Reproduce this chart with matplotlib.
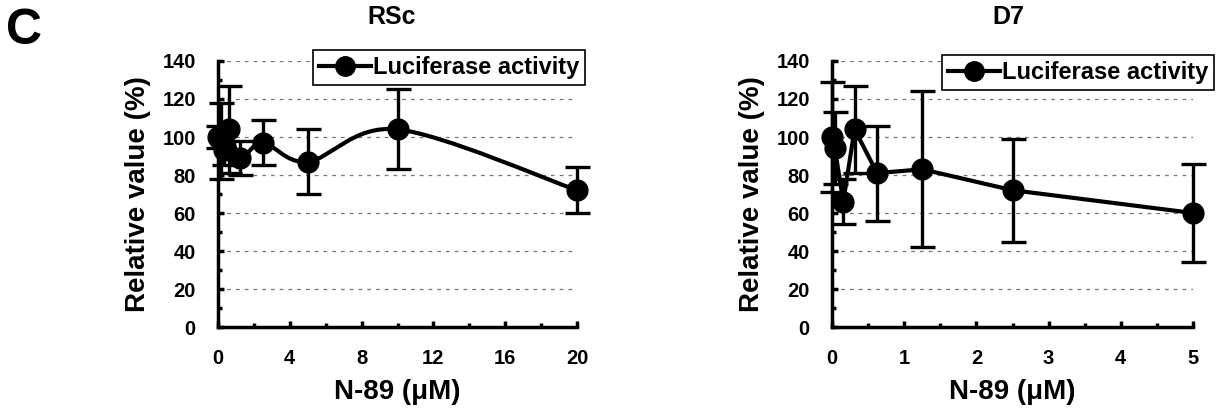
import numpy as np
import matplotlib
matplotlib.use("Agg")
import matplotlib.pyplot as plt
from matplotlib.path import Path
from matplotlib.patches import PathPatch
from matplotlib.lines import Line2D
from matplotlib.ticker import MultipleLocator

plt.rcParams['font.family'] = ['Liberation Sans', 'DejaVu Sans']
plt.rcParams['font.weight'] = 'bold'
plt.rcParams['axes.labelweight'] = 'bold'

# RSc panel
rsc_conc = [0, 0.156, 0.3125, 0.625, 1.25, 2.5, 5, 10, 20]
rsc_val = [100, 98, 93, 104, 89, 97, 87, 104, 72]
rsc_err = [6, 20, 8, 23, 9, 12, 17, 21, 12]

# D7 panel
d7_conc = [0, 0.039, 0.156, 0.3125, 0.625, 1.25, 2.5, 5]
d7_val = [100, 94, 66, 104, 81, 83, 72, 60]
d7_err = [29, 19, 12, 23, 25, 41, 27, 26]

legend_label = "Luciferase activity"


def smooth_path(x, y):
    # excel-like smoothed line: cubic bezier through the points
    x = np.asarray(x, float)
    y = np.asarray(y, float)
    pts = np.column_stack([x, y])
    verts = [pts[0]]
    codes = [Path.MOVETO]
    n = len(pts)
    for i in range(n - 1):
        p0 = pts[i - 1] if i > 0 else pts[i]
        p1 = pts[i]
        p2 = pts[i + 1]
        p3 = pts[i + 2] if i + 2 < n else pts[i + 1]
        c1 = p1 + (p2 - p0) / 6.0
        c2 = p2 - (p3 - p1) / 6.0
        verts += [c1, c2, p2]
        codes += [Path.CURVE4] * 3
    return Path(verts, codes)


def style_axis(ax, xmax, xmajor, xminor):
    ax.set_xlim(0, xmax)
    ax.set_ylim(0, 140)
    ax.xaxis.set_major_locator(MultipleLocator(xmajor))
    ax.xaxis.set_minor_locator(MultipleLocator(xminor))
    ax.yaxis.set_major_locator(MultipleLocator(20))
    ax.yaxis.set_minor_locator(MultipleLocator(10))
    ax.tick_params(which='both', direction='in', width=2.5, length=4,
                   labelsize=14.5, pad=16)
    ax.tick_params(which='minor', length=3)
    for side in ['top', 'right']:
        ax.spines[side].set_visible(False)
    for side in ['left', 'bottom']:
        ax.spines[side].set_linewidth(2.5)
    ax.yaxis.grid(True, linestyle=(0, (3, 4)), color='#777777', linewidth=0.9)
    ax.set_axisbelow(True)
    ax.set_ylabel("Relative value (%)", fontsize=20, labelpad=8)
    ax.set_xlabel("N-89 (\u03bcM)", fontsize=20, labelpad=8)


fig = plt.figure(figsize=(12.16, 4.11), dpi=100)
ax1 = fig.add_axes([218 / 1216, 1 - 327 / 411, 359 / 1216, 266 / 411])
ax2 = fig.add_axes([832 / 1216, 1 - 327 / 411, 361 / 1216, 266 / 411])

err_kw = dict(fmt='none', ecolor='black', elinewidth=2.4, capsize=9,
              capthick=2.4, zorder=3, clip_on=False)

# left: smoothed line
ax1.add_patch(PathPatch(smooth_path(rsc_conc, rsc_val), facecolor='none',
                        edgecolor='black', linewidth=3, zorder=4,
                        clip_on=False))
ax1.errorbar(rsc_conc, rsc_val, yerr=rsc_err, **err_kw)
ax1.plot(rsc_conc, rsc_val, linestyle='none', marker='o', markersize=15,
         color='black', zorder=5, clip_on=False)
style_axis(ax1, 20, 4, 2)

# right: straight segments
ax2.errorbar(d7_conc, d7_val, yerr=d7_err, **err_kw)
ax2.plot(d7_conc, d7_val, '-', linewidth=3, marker='o', markersize=15,
         color='black', zorder=5, clip_on=False)
style_axis(ax2, 5, 1, 0.5)

handle = Line2D([], [], color='black', linewidth=3, marker='o',
                markersize=14)
for ax, (lx, ly) in [(ax1, (313 / 1216, 1 - 50 / 411)),
                     (ax2, (942 / 1216, 1 - 55 / 411))]:
    leg = ax.legend([handle], [legend_label], loc='upper left',
                    bbox_to_anchor=(lx, ly), bbox_transform=fig.transFigure,
                    fancybox=False, edgecolor='black', framealpha=1,
                    fontsize=17, handlelength=2.2, handletextpad=0.1,
                    borderpad=0.25, borderaxespad=0)
    leg.get_frame().set_linewidth(1.2)
    leg.set_zorder(10)

fig.text(392 / 1216, 1 - 17 / 411, "RSc", fontsize=18, ha='center',
         va='center')
fig.text(1008 / 1216, 1 - 17 / 411, "D7", fontsize=18, ha='center',
         va='center')
fig.text(6 / 1216, 1 - 31 / 411, "C", fontsize=36, ha='left', va='center')

fig.savefig("out.png", dpi=100, facecolor='white')
